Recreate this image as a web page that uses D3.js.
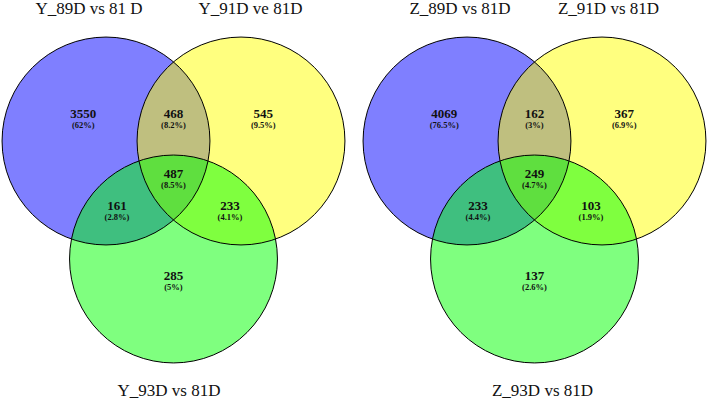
<!DOCTYPE html>
<html>
<head>
<meta charset="utf-8">
<script src="https://cdn.jsdelivr.net/npm/d3@7"></script>
<style>
  html, body { margin: 0; padding: 0; background: #fff; }
  svg { display: block; }
</style>
</head>
<body>
<svg id="chart" width="709" height="401"></svg>
<script>
// ---- Data ----
const panels = ["Y", "Z"];
const setTitlesY = ["Y_89D vs 81 D", "Y_91D ve 81D", "Y_93D vs 81D"];
const setTitlesZ = ["Z_89D vs 81D", "Z_91D vs 81D", "Z_93D vs 81D"];
// regions: A only, A∩B, B only, A∩B∩C, A∩C, B∩C, C only
const regionKeys = ["A", "AB", "B", "ABC", "AC", "BC", "C"];
const countsY = [3550, 468, 545, 487, 161, 233, 285];
const percentY = ["62%", "8.2%", "9.5%", "8.5%", "2.8%", "4.1%", "5%"];
const countsZ = [4069, 162, 367, 249, 233, 103, 137];
const percentZ = ["76.5%", "3%", "6.9%", "4.7%", "4.4%", "1.9%", "2.6%"];
const setColors = ["#0000ff", "#ffff00", "#00ff00"];

// ---- Layout (abstract units; 1 unit = half the distance between A and B centers) ----
const circleCenters = [[-1, 0], [1, 0], [0, 1.748]];
const circleRadius = 1.54;
const labelPos = {
  A: [-1.336, -0.34], AB: [0, -0.34], B: [1.33, -0.34],
  ABC: [0, 0.548], AC: [-0.837, 1.022], BC: [0.837, 1.022], C: [0, 2.059]
};
const panelLayout = [
  { mid: 173.5, titles: [[89, 13.5], [250.5, 13.5], [169, 396]] },
  { mid: 534.5, titles: [[460, 13.5], [608.5, 13.5], [542.5, 396]] }
];
const unitPx = 67.5, topY = 141;

const svg = d3.select("#chart");
const data = [
  { titles: setTitlesY, counts: countsY, pcts: percentY },
  { titles: setTitlesZ, counts: countsZ, pcts: percentZ }
];

data.forEach((d, i) => {
  const L = panelLayout[i];
  const x = d3.scaleLinear().domain([0, 1]).range([L.mid, L.mid + unitPx]);
  const y = d3.scaleLinear().domain([0, 1]).range([topY, topY + unitPx]);
  const r = v => x(v) - x(0);
  const g = svg.append("g").attr("class", "panel-" + panels[i]);

  g.selectAll("circle.fill").data(circleCenters).join("circle")
    .attr("class", "fill")
    .attr("cx", c => x(c[0])).attr("cy", c => y(c[1])).attr("r", r(circleRadius))
    .attr("fill", (c, k) => setColors[k]).attr("fill-opacity", 0.5)
    .attr("stroke", "none");
  g.selectAll("circle.edge").data(circleCenters).join("circle")
    .attr("class", "edge")
    .attr("cx", c => x(c[0])).attr("cy", c => y(c[1])).attr("r", r(circleRadius))
    .attr("fill", "none").attr("stroke", "#000").attr("stroke-width", 1);

  const labels = regionKeys.map((k, j) => ({ k, n: d.counts[j], p: d.pcts[j] }));
  g.selectAll("text.num").data(labels).join("text")
    .attr("class", "num")
    .attr("x", l => x(labelPos[l.k][0])).attr("y", l => y(labelPos[l.k][1]))
    .attr("text-anchor", "middle")
    .attr("font-family", "'Liberation Serif', 'Times New Roman', serif")
    .attr("font-weight", "bold").attr("font-size", 13).attr("fill", "#111")
    .text(l => l.n);
  g.selectAll("text.pct").data(labels).join("text")
    .attr("class", "pct")
    .attr("x", l => x(labelPos[l.k][0])).attr("y", l => y(labelPos[l.k][1]) + 10)
    .attr("text-anchor", "middle")
    .attr("font-family", "'Liberation Serif', 'Times New Roman', serif")
    .attr("font-weight", "bold").attr("font-size", 8.5).attr("fill", "#111")
    .text(l => "(" + l.p + ")");

  g.selectAll("text.title").data(d.titles).join("text")
    .attr("class", "title")
    .attr("x", (t, k) => L.titles[k][0]).attr("y", (t, k) => L.titles[k][1])
    .attr("text-anchor", "middle")
    .attr("font-family", "'Liberation Serif', 'Times New Roman', serif")
    .attr("font-size", 17).attr("fill", "#111")
    .text(t => t);
});
</script>
</body>
</html>
